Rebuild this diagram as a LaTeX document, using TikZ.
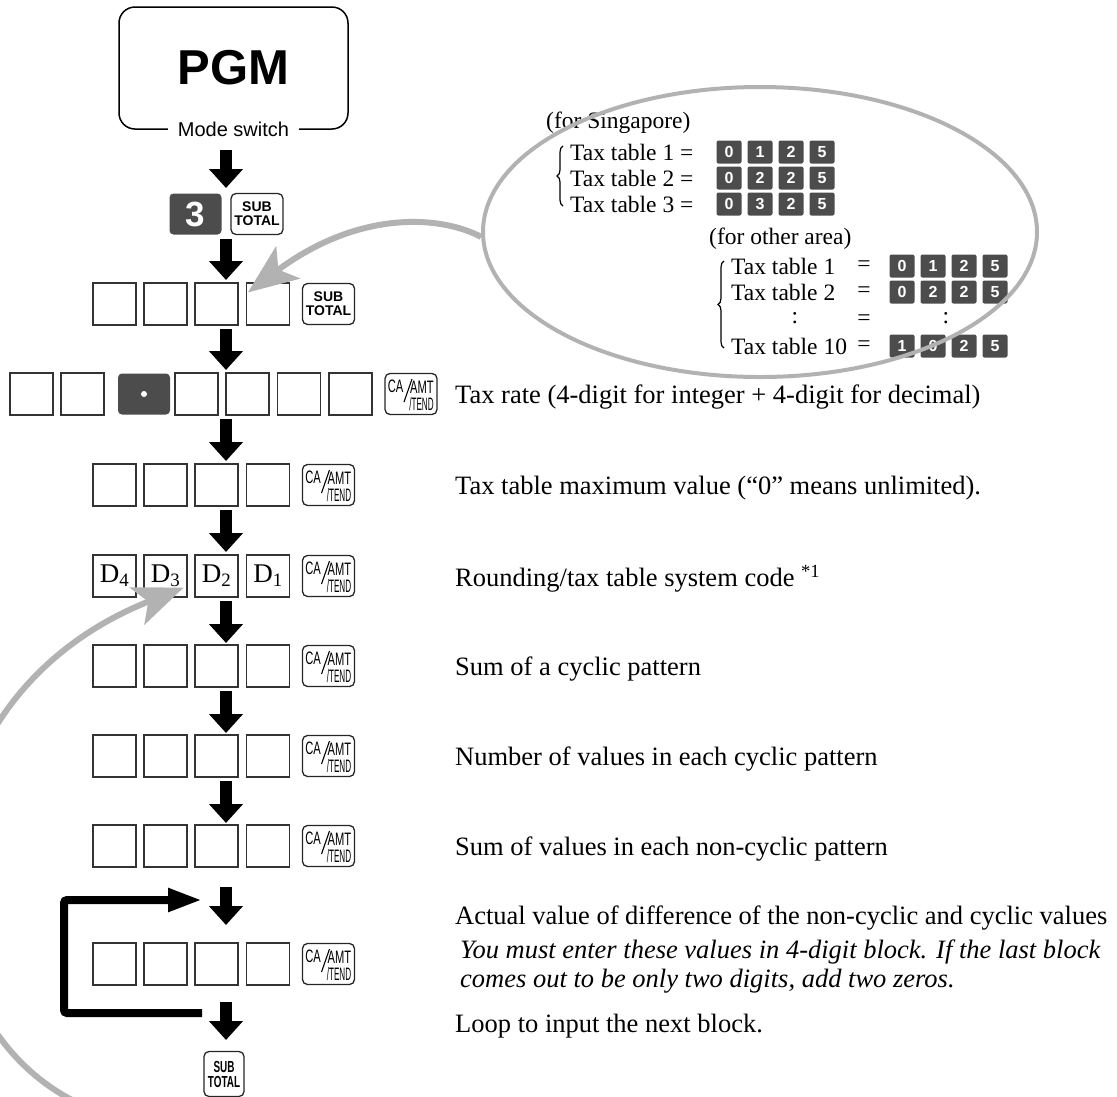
\documentclass[tikz,border=0pt]{standalone}
\usepackage{fontspec}
\setmainfont{Liberation Serif}
\newfontfamily\sansfont{Liberation Sans}
\newfontfamily\keyfont[FakeStretch=0.62]{Liberation Sans}
\newfontfamily\tendfont[FakeStretch=0.45]{Liberation Sans}
\usetikzlibrary{arrows.meta,positioning,shapes.geometric,calc,decorations.pathreplacing}
\tikzset{
  digbox/.style={draw=black!80, line width=1.2pt, minimum width=43pt, minimum height=42pt,
    inner sep=0pt, font=\fontsize{27}{27}\selectfont},
  fnkey/.style={draw=black!85, line width=1.3pt, rounded corners=5pt,
    minimum width=52pt, minimum height=41pt, inner sep=0pt},
  subkey/.style={fnkey, align=center, font=\sansfont\bfseries\fontsize{14}{14}\selectfont},
  darkkey/.style={fill=black!70, rounded corners=4pt, minimum width=52pt, minimum height=41pt,
    inner sep=0pt, text=white, font=\sansfont\bfseries\fontsize{35}{35}\selectfont},
  tkey/.style={fill=black!70, rounded corners=2pt, minimum width=25pt, minimum height=23pt,
    inner sep=0pt, text=white, font=\sansfont\bfseries\fontsize{16}{16}\selectfont},
  keylbl/.style={inner sep=0pt, font=\keyfont\fontsize{18}{18}\selectfont},
  tendlbl/.style={inner sep=0pt, font=\tendfont\fontsize{18}{18}\selectfont},
  txt/.style={anchor=west, inner sep=0pt, font=\fontsize{26.5}{30}\selectfont},
  itxt/.style={txt, font=\itshape\fontsize{26.5}{30}\selectfont},
  etxt/.style={anchor=west, inner sep=0pt, font=\fontsize{23.5}{26}\selectfont},
  curly/.style={decorate, decoration={brace, amplitude=6pt}, line width=1.2pt},
  down/.style={line width=12pt, -{Triangle[length=19pt,width=33pt]}},
  back/.style={line width=8pt, rounded corners=3pt, -{Triangle[length=34pt,width=22pt]}},
  hint/.style={draw=black!30, line width=6pt, -{Stealth[length=50pt,width=40pt,inset=12pt]}}
}
% CA/AMT/TEND key: name, position
\newcommand{\tendkey}[2]{%
  \node[fnkey] (#1) at (#2) {};
  \node[keylbl] (#1-ca) at ([shift={(-15.5,-8)}]#1.center) {CA};
  \node[keylbl] (#1-amt) at ([shift={(11,-6.5)}]#1.center) {AMT};
  \node[tendlbl] (#1-tend) at ([shift={(10.5,10)}]#1.center) {/TEND};
  \draw[line width=1.1pt] ([shift={(-7,8)}]#1.center) -- ([shift={(1,-15)}]#1.center);
}
\newcommand{\fourboxes}[2]{% prefix, y
  \foreach \x [count=\i] in {114.5,165.5,216.5,268}
    \node[digbox] (#1\i) at (\x,#2) {};
}

\begin{document}
\begin{tikzpicture}[x=1pt, y=-1pt]
  \useasboundingbox (0,0) rectangle (1117,1096);

  % mode switch
  \node[draw, line width=1.5pt, rounded corners=16pt, minimum width=229pt, minimum height=122pt,
    font=\sansfont\bfseries\fontsize{49}{49}\selectfont] (pgm) at (233.5,68) {PGM};
  \node[fill=white, inner xsep=10pt, inner ysep=2pt,
    font=\sansfont\fontsize{20}{20}\selectfont] (mode) at (pgm.south) {Mode switch};

  % 3 SUBTOTAL
  \node[darkkey] (k3) at (195.5,214) {3};
  \node[subkey] (k3s) at (257,214) {SUB\\TOTAL};

  % tax table number
  \fourboxes{ra}{304}
  \node[subkey] (ra5) at (328.5,304) {SUB\\TOTAL};

  % tax rate
  \foreach \x [count=\i] in {31.5,82.5,196.5,247.5,299,350.5}
    \node[digbox] (rb\i) at (\x,394) {};
  \node[darkkey] (rbdot) at (144,394) {};
  \fill[white] (rbdot.center) circle (3pt);
  \tendkey{rb7}{411,394}

  % remaining rows
  \fourboxes{rc}{485}
  \tendkey{rc5}{328.5,485}
  \foreach \x/\d [count=\i] in {114.5/4,165.5/3,216.5/2,268/1}
    \node[digbox] (rd\i) at (\x,576) {D\textsubscript{\d}};
  \tendkey{rd5}{328.5,576}
  \fourboxes{re}{666}
  \tendkey{re5}{328.5,666}
  \fourboxes{rf}{756}
  \tendkey{rf5}{328.5,756}
  \fourboxes{rg}{846}
  \tendkey{rg5}{328.5,846}
  \fourboxes{rh}{964}
  \tendkey{rh5}{328.5,964}
  \node[fnkey, minimum width=40pt, minimum height=45pt, align=center,
    font=\keyfont\bfseries\fontsize{16}{15}\selectfont] (fin) at (224,1074) {SUB\\TOTAL};

  % flow arrows
  \foreach \ya/\yb [count=\i] in {150/188,239/280,329/370,419/461,510/552,601/643,
                                  691/733,781/823,887/925,1002/1040}{
    \coordinate (as\i) at (226,\ya);
    \coordinate (ae\i) at (226,\yb);
    \draw[down] (as\i) -- (ae\i);
  }

  % loop back
  \coordinate (loopS) at (202,1013);
  \coordinate (loopE) at (202,900);
  \draw[back] (loopS) -- ++(-138,0) |- (loopE);

  % descriptions
  \node[txt] (t1) at (455,397) {Tax rate (4-digit for integer + 4-digit for decimal)};
  \node[txt] (t2) at (455,488) {Tax table maximum value (“0” means unlimited).};
  \node[txt] (t3) at (455,579) {Rounding/tax table system code \textsuperscript{*1}};
  \node[txt] (t4) at (455,669) {Sum of a cyclic pattern};
  \node[txt] (t5) at (455,759) {Number of values in each cyclic pattern};
  \node[txt] (t6) at (455,849) {Sum of values in each non-cyclic pattern};
  \node[txt] (t7) at (455,918) {Actual value of difference of the non-cyclic and cyclic values};
  \node[itxt] (t8) at (460,952) {You must enter these values in 4-digit block. If the last block};
  \node[itxt] (t9) at (460,981) {comes out to be only two digits, add two zeros.};
  \node[txt] (t10) at (455,1026) {Loop to input the next block.};

  % tax table examples
  \node[etxt] (sg) at (546,123) {(for Singapore)};
  \draw[curly] (563,206) -- (563,146);
  \foreach \r/\y in {1/152,2/178,3/204}{
    \node[etxt] (sgt\r) at (570,\y) {Tax table \r\ =};
    \node[tkey] (sgk\r a) at (729,\y) {0};
    \node[tkey] (sgk\r b) at (760,\y) {\r};
    \node[tkey] (sgk\r c) at (791,\y) {2};
    \node[tkey] (sgk\r d) at (822,\y) {5};
  }
  \node[etxt] (oa) at (709,239) {(for other area)};
  \draw[curly] (724,348) -- (724,261);
  \foreach \r/\y/\lab/\da/\db in {1/266/1/0/1, 2/292/2/0/2, 4/346/10/1/0}{
    \node[etxt] (oat\r) at (731,\y) {Tax table \lab};
    \node[etxt, anchor=center] (oeq\r) at (864,\y) {=};
    \node[tkey] (oak\r a) at (902,\y) {\da};
    \node[tkey] (oak\r b) at (933,\y) {\db};
    \node[tkey] (oak\r c) at (964,\y) {2};
    \node[tkey] (oak\r d) at (995,\y) {5};
  }
  \node[etxt, anchor=center] (odot1) at (795,318) {:};
  \node[etxt, anchor=center] (oeq3) at (864,320) {=};
  \node[etxt, anchor=center] (odot2) at (946,318) {:};

  % grey hints
  \node[draw=black!30, line width=4pt, ellipse, minimum width=554pt, minimum height=290pt,
    inner sep=0pt] (ell) at (760,232) {};
  \draw[hint] (ell.181) .. controls +(-42,-22) and +(110,-82) .. ([shift={(2,10)}]ra4.north west);
  \coordinate (arcfoot) at (72,1100);
  \draw[hint] (arcfoot) .. controls (-100,1010) and (-100,700) .. ([shift={(-4,-10)}]rd2.south east);
\end{tikzpicture}
\end{document}
